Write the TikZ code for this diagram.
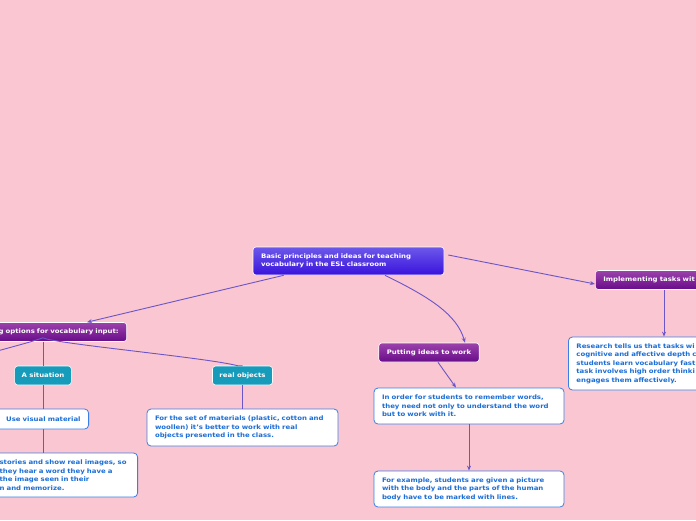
\documentclass[tikz,border=0pt]{standalone}
\usepackage{fontspec}
\setmainfont{DejaVu Sans}[FakeStretch=1.12]
\usepackage{xcolor}
\usetikzlibrary{arrows.meta}

\definecolor{bgpink}{HTML}{F9C6D1}
\definecolor{rootTop}{HTML}{6C58EA}
\definecolor{rootBot}{HTML}{3A12DC}
\definecolor{topicTop}{HTML}{9C42AC}
\definecolor{topicBot}{HTML}{680C88}
\definecolor{subTeal}{HTML}{169BBA}
\definecolor{noteBlue}{HTML}{3A80E4}
\definecolor{noteText}{HTML}{1B6ED6}
\definecolor{linkCol}{HTML}{6C55C8}

\begin{document}
\begin{tikzpicture}[
  x=1pt, y=-1pt,
  every node/.style={font=\fontsize{6.2}{8.5}\selectfont\bfseries, inner ysep=2pt},
  rootbox/.style={draw=white, line width=0.6pt, rounded corners=3pt, top color=rootTop, bottom color=rootBot, text=white, align=left, inner xsep=8pt},
  topicbox/.style={draw=white, line width=0.6pt, rounded corners=3pt, top color=topicTop, bottom color=topicBot, text=white, minimum height=19pt, inner xsep=8pt},
  subbox/.style={draw=white, line width=0.6pt, rounded corners=3pt, fill=subTeal, text=white, minimum height=19pt, inner xsep=7pt},
  notebox/.style={draw=noteBlue, line width=0.8pt, rounded corners=4pt, fill=white, text=noteText, align=left, inner xsep=8pt},
  arrow/.style={draw=linkCol, line width=0.9pt, -{Stealth[length=5pt, width=4pt]}},
  link/.style={draw=linkCol, line width=0.9pt}]

  \clip (0,0) rectangle (696,520);
  \fill[bgpink] (0,0) rectangle (696,520);

  \node[rootbox, text width=175pt, minimum height=28pt] (root) at (348.5,261) {Basic principles and ideas for teaching\\vocabulary in the ESL classroom};

  \node[topicbox, anchor=east, text width=150pt, align=right] (opts) at (127,332) {g options for vocabulary input:};
  \node[topicbox] (put) at (429,352.5) {Putting ideas to work};
  \node[topicbox, anchor=west, text width=150pt, align=left] (impl) at (595,280) {Implementing tasks wit};

  \node[subbox] (sit) at (43,375.5) {A situation};
  \node[subbox] (real) at (242.5,375.5) {real objects};

  \node[notebox, anchor=east, text width=120pt, align=right, minimum height=20pt] (visual) at (89,419) {Use visual material};
  \node[notebox, anchor=east, text width=130pt, minimum height=44pt] (stories) at (138,475) {stories and show real images, so\\they hear a word they have a\\the image seen in their\\n and memorize.};
  \node[notebox, text width=175pt, minimum height=37pt] (set) at (242.5,427.5) {For the set of materials (plastic, cotton and\\woollen) it's better to work with real\\objects presented in the class.};
  \node[notebox, text width=174pt, minimum height=36pt] (order) at (469,406) {In order for students to remember words,\\they need not only to understand the word\\but to work with it.};
  \node[notebox, text width=174pt, minimum height=36pt] (example) at (469,489) {For example, students are given a picture\\with the body and the parts of the human\\body have to be marked with lines.};
  \node[notebox, anchor=west, text width=150pt, minimum height=53pt] (research) at (568,363.5) {Research tells us that tasks wi\\cognitive and affective depth c\\students learn vocabulary fast\\task involves high order thinki\\engages them affectively.};

  \coordinate (offleft) at (-10,353);

  % main branches
  \draw[arrow] ([xshift=31pt]root.south west) -- ([xshift=-40pt]opts.north east);
  \draw[arrow] ([xshift=36.5pt]root.south) .. controls +(45,22) and +(-8,-28) .. ([xshift=36pt]put.north);
  \draw[arrow] ([shift={(4pt,6pt)}]root.east) -- ([yshift=-4pt]impl.west);

  % input options
  \draw[link] ([xshift=-84pt]opts.south east) -- (sit.north);
  \draw[link] ([shift={(-84pt,4pt)}]opts.south east) .. controls +(-12,4) .. (offleft);
  \draw[link] ([shift={(-84pt,4pt)}]opts.south east) .. controls +(12,6) and +(-30,-8) .. ([xshift=-5pt]real.north) -- (real.north);
  \draw[link] (sit) -- (visual.north -| sit);
  \draw[link] (visual.south -| sit) -- (stories.north -| sit);
  \draw[link] (real) -- (set.north -| real);

  % practice
  \draw[arrow] ([xshift=9pt]put.south) -- ([xshift=-13pt]order.north);
  \draw[arrow] (order) -- (example);
  \draw[arrow] ([xshift=69pt]impl.south west) -- ([xshift=96pt]research.north west);
\end{tikzpicture}
\end{document}
